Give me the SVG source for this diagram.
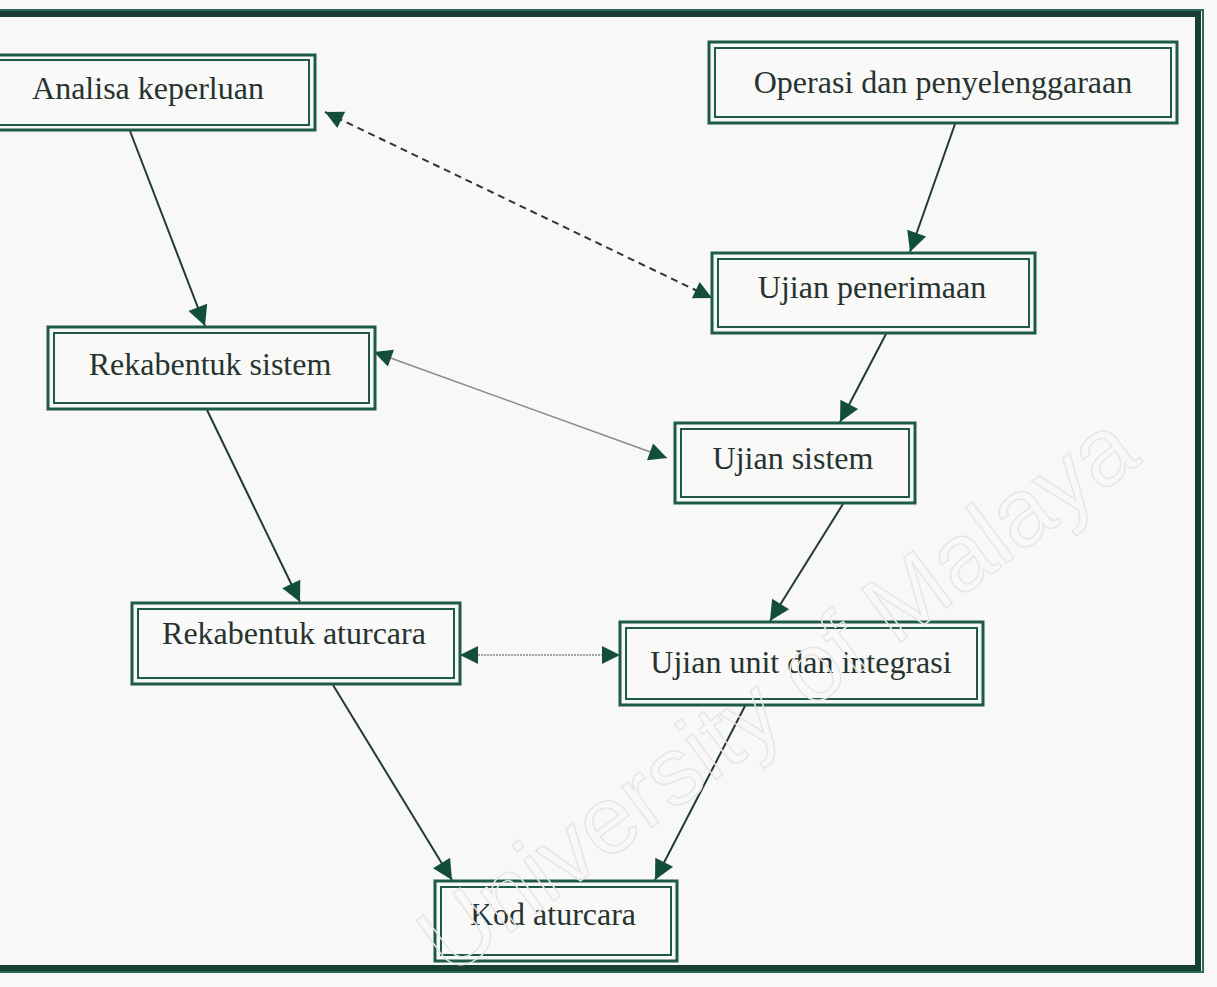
<svg xmlns="http://www.w3.org/2000/svg" width="1217" height="987" viewBox="0 0 1217 987">
<style>
.bg{fill:#f8f8f6}
.o{fill:none;stroke:#1d5a4a;stroke-width:3}
.i{fill:#f9f9f7;stroke:#1d5a4a;stroke-width:2}
.t{font-family:"Liberation Serif","Times New Roman",serif;font-size:32px;fill:#26332f;text-anchor:middle}
.c{stroke:#233a33;stroke-width:2;fill:none}
.wm{font-family:"Liberation Sans",Arial,sans-serif;font-size:96px;fill:none;stroke:#e6e6e6;stroke-width:1.5}
</style>
<defs>
<marker id="ah" viewBox="0 0 10 10" refX="10" refY="5" markerWidth="22" markerHeight="18" markerUnits="userSpaceOnUse" orient="auto-start-reverse">
<path d="M0,0 L10,5 L0,10 z" fill="#134e3c"/>
</marker>
<marker id="ah2" viewBox="0 0 10 10" refX="10" refY="5" markerWidth="24" markerHeight="20" markerUnits="userSpaceOnUse" orient="auto-start-reverse">
<path d="M0,0 L10,5 L0,10 z" fill="#134e3c"/>
</marker>
</defs>
<rect class="bg" x="0" y="0" width="1217" height="987"/>
<g id="frame">
<path d="M-5,14 L1198,14 L1198,968 L-5,968" fill="none" stroke="#173f35" stroke-width="6"/>
<path d="M-5,10 L1203,10 L1203,972 L-5,972" fill="none" stroke="#2a6a58" stroke-width="2"/>
</g>
<g id="connectors">
<line class="c" x1="130" y1="131" x2="205" y2="326" marker-end="url(#ah2)"/>
<line class="c" x1="955" y1="124" x2="910" y2="252" marker-end="url(#ah2)"/>
<line class="c" x1="886" y1="334" x2="840" y2="422" marker-end="url(#ah2)"/>
<line class="c" x1="207" y1="410" x2="300" y2="602" marker-end="url(#ah2)"/>
<line class="c" x1="843" y1="504" x2="770" y2="621" marker-end="url(#ah2)"/>
<line class="c" x1="333" y1="685" x2="452" y2="880" marker-end="url(#ah2)"/>
<line class="c" x1="745" y1="706" x2="655" y2="880" marker-end="url(#ah2)"/>
<line x1="325" y1="112" x2="712" y2="298" stroke="#333" stroke-width="2" stroke-dasharray="7,5" marker-start="url(#ah)" marker-end="url(#ah)"/>
<line x1="374" y1="352" x2="667" y2="458" stroke="#8a8a8a" stroke-width="1.5" marker-start="url(#ah)" marker-end="url(#ah)"/>
<line x1="460" y1="655" x2="620" y2="655" stroke="#8a8a8a" stroke-width="1.5" stroke-dasharray="2,1" marker-start="url(#ah)" marker-end="url(#ah)"/>
</g>
<g id="n-analisa">
<rect class="o" x="-10" y="55" width="325" height="75"/>
<rect class="i" x="-10" y="60" width="319" height="65"/>
<text class="t" x="148" y="99">Analisa keperluan</text>
</g>
<g id="n-operasi">
<rect class="o" x="709" y="42" width="468" height="81"/>
<rect class="i" x="715" y="48" width="456" height="69"/>
<text class="t" x="943" y="93">Operasi dan penyelenggaraan</text>
</g>
<g id="n-rekasistem">
<rect class="o" x="48" y="327" width="327" height="82"/>
<rect class="i" x="54" y="333" width="315" height="70"/>
<text class="t" x="210" y="375">Rekabentuk sistem</text>
</g>
<g id="n-penerimaan">
<rect class="o" x="712" y="253" width="323" height="80"/>
<rect class="i" x="718" y="259" width="311" height="68"/>
<text class="t" x="872" y="298">Ujian penerimaan</text>
</g>
<g id="n-ujiansistem">
<rect class="o" x="675" y="423" width="240" height="80"/>
<rect class="i" x="681" y="429" width="228" height="68"/>
<text class="t" x="793" y="469">Ujian sistem</text>
</g>
<g id="n-rekaaturcara">
<rect class="o" x="132" y="603" width="328" height="81"/>
<rect class="i" x="138" y="609" width="316" height="69"/>
<text class="t" x="294" y="644">Rekabentuk aturcara</text>
</g>
<g id="n-ujianunit">
<rect class="o" x="620" y="622" width="363" height="83"/>
<rect class="i" x="626" y="628" width="351" height="71"/>
<text class="t" x="801" y="673">Ujian unit dan integrasi</text>
</g>
<g id="n-kod">
<rect class="o" x="435" y="881" width="242" height="80"/>
<rect class="i" x="441" y="887" width="230" height="68"/>
<text class="t" x="553" y="925">Kod aturcara</text>
</g>
<text class="wm" x="0" y="0" transform="translate(450,978) rotate(-36.7)">University of Malaya</text>
</svg>
